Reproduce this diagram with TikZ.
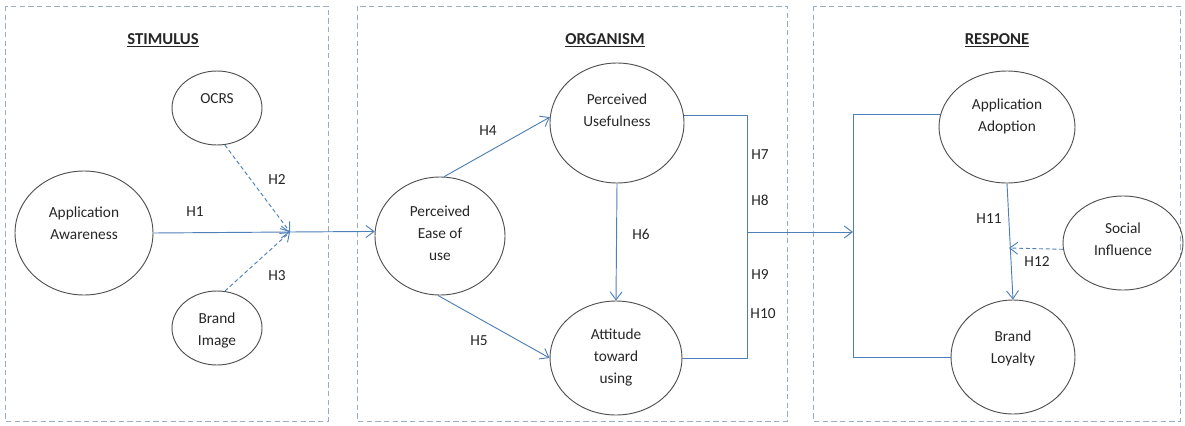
\documentclass[tikz,border=0pt]{standalone}
\usepackage{fontspec}
\setmainfont{Carlito}
\usetikzlibrary{shapes.geometric,arrows.meta}
\definecolor{lineblue}{HTML}{4F7FB8}
\definecolor{boxgray}{HTML}{9AADC2}
\definecolor{ellgray}{HTML}{505050}
\begin{document}
\begin{tikzpicture}[x=0.75pt,y=-0.75pt,
  ell/.style={ellipse,draw=ellgray,line width=0.7pt,inner sep=0pt},
  txt/.style={align=center,font=\fontsize{11.5}{16.5}\selectfont,text=black!85},
  hlab/.style={font=\fontsize{11.5}{14}\selectfont,text=black!85},
  ttl/.style={font=\fontsize{12.5}{15}\selectfont\bfseries,text=black!85},
  panel/.style={draw=boxgray,line width=0.6pt,dash pattern=on 4pt off 2.5pt},
  conn/.style={draw=lineblue,line width=0.7pt},
  arr/.style={conn,-{Straight Barb[length=6pt,width=9pt]}},
  darr/.style={arr,dash pattern=on 3pt off 2pt}]
\useasboundingbox (0,0) rectangle (1185,425);
% panels
\draw[panel] (5,6) rectangle (328,421);
\draw[panel] (357,6) rectangle (787,421);
\draw[panel] (813,6) rectangle (1180,421);
\node[ttl] (t1) at (163,40) {\underline{STIMULUS}};
\node[ttl] (t2) at (605,40) {\underline{ORGANISM}};
\node[ttl] (t3) at (997,40) {\underline{RESPONE}};
% stimulus
\node[ell,minimum width=67.5pt,minimum height=55.5pt] (ocrs) at (217,108) {};
\node[txt] (ocrst) at (217,99) {OCRS};
\node[ell,minimum width=103.5pt,minimum height=93pt] (aw) at (84,233) {};
\node[txt] (awt) at (84,223) {Application\\Awareness};
\node[ell,minimum width=67.5pt,minimum height=55.5pt] (bi) at (217,328) {};
\node[txt] (bit) at (217,330) {Brand\\Image};
\coordinate (conv) at (290,232);
% organism
\node[ell,minimum width=97.5pt,minimum height=88.5pt] (pe) at (440,236) {};
\node[txt] (pet) at (440,233) {Perceived\\Ease of\\use};
\node[ell,minimum width=100.5pt,minimum height=90pt] (pu) at (617,123) {};
\node[txt] (put) at (617,110) {Perceived\\Usefulness};
\node[ell,minimum width=99pt,minimum height=85.5pt] (at) at (616,358) {};
\node[txt] (att) at (616,357) {Attitude\\toward\\using};
\coordinate (bx) at (747,232);
% response
\node[ell,minimum width=102pt,minimum height=84pt] (ad) at (1007,127) {};
\node[txt] (adt) at (1007,116) {Application\\Adoption};
\node[ell,minimum width=93pt,minimum height=85.5pt] (bl) at (1013,357) {};
\node[txt] (blt) at (1013,348) {Brand\\Loyalty};
\node[ell,minimum width=90pt,minimum height=70.5pt] (si) at (1123,243) {};
\node[txt] (sit) at (1123,239) {Social\\Influence};
\coordinate (rx) at (853,232);
\coordinate (h12e) at (1009,248);
% connectors
\draw[arr] (aw.east) -- (conv);
\draw[darr] (ocrs.-78) -- (conv);
\draw[darr] (bi.78) -- (conv);
\draw[arr] (conv) -- (pe.176);
\draw[arr] (pe.86) -- (pu.175);
\draw[arr] (pe.-92) -- (at.west);
\draw[arr] (pu.south) -- (at.north);
\draw[conn] (pu.6) -- (pu.6 -| bx) -- (at.east -| bx) -- (at.east);
\draw[arr] (bx) -- (rx);
\draw[conn] (ad.169) -- (ad.169 -| rx) -- (bl.west -| rx) -- (bl.west);
\draw[arr] (ad.south) -- (bl.north);
\draw[darr] (si.186) -- (h12e);
% labels
\node[hlab] (h1) at (195,212) {H1};
\node[hlab] (h2) at (277,180) {H2};
\node[hlab] (h3) at (277,276) {H3};
\node[hlab] (h4) at (488,131) {H4};
\node[hlab] (h5) at (479,341) {H5};
\node[hlab] (h6) at (641,234) {H6};
\node[hlab] (h7) at (760,155) {H7};
\node[hlab] (h8) at (760,200) {H8};
\node[hlab] (h9) at (760,275) {H9};
\node[hlab] (h10) at (763,314) {H10};
\node[hlab] (h11) at (989,219) {H11};
\node[hlab] (h12) at (1037,262) {H12};
\end{tikzpicture}
\end{document}
